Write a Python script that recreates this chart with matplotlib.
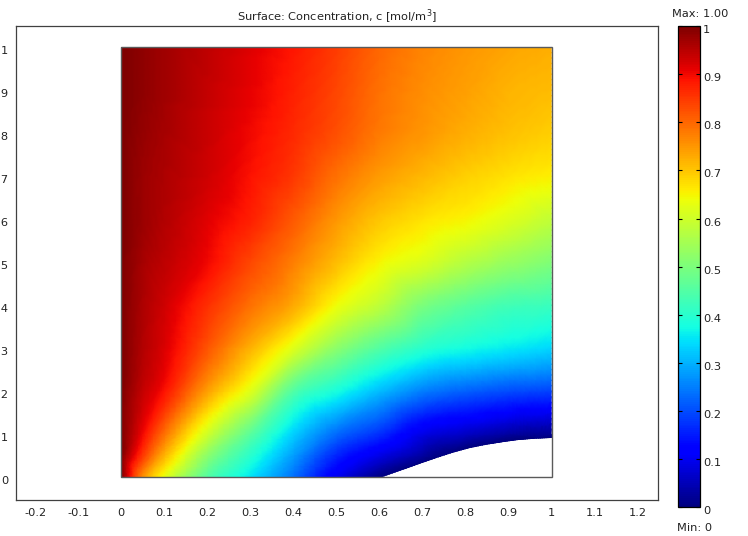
import numpy as np
import matplotlib
matplotlib.use("Agg")
import matplotlib.pyplot as plt
import matplotlib.tri as mtri
import matplotlib.transforms as mtransforms
from matplotlib.path import Path
from matplotlib.patches import PathPatch, Rectangle

plt.rcParams['font.family'] = ['DejaVu Sans']
plt.rcParams['axes.unicode_minus'] = False

# concentration at these sample points (nan = outside domain)
grid_x = [0, 0.05, 0.1, 0.2, 0.3, 0.4, 0.5, 0.6, 0.7, 0.8, 0.9, 1.0]
grid_y = [0, 0.05, 0.1, 0.2, 0.3, 0.4, 0.5, 0.6, 0.7, 0.8, 0.9, 1.0]
nan = np.nan
conc = [
    [1.00, 0.76, 0.63, 0.45, 0.35, 0.235, 0.10, nan, nan, nan, nan, nan],
    [1.00, 0.85, 0.72, 0.52, 0.40, 0.28, 0.16, 0.09, 0.03, nan, nan, nan],
    [1.00, 0.90, 0.79, 0.60, 0.46, 0.33, 0.23, 0.17, 0.09, 0.06, 0.03, 0.015],
    [1.00, 0.94, 0.89, 0.74, 0.62, 0.45, 0.38, 0.31, 0.25, 0.22, 0.20, 0.19],
    [1.00, 0.955, 0.92, 0.82, 0.72, 0.62, 0.52, 0.45, 0.40, 0.375, 0.355, 0.335],
    [1.00, 0.96, 0.93, 0.86, 0.79, 0.73, 0.64, 0.58, 0.50, 0.46, 0.43, 0.42],
    [1.00, 0.965, 0.945, 0.90, 0.835, 0.775, 0.71, 0.65, 0.615, 0.57, 0.535, 0.505],
    [1.00, 0.975, 0.955, 0.915, 0.875, 0.815, 0.75, 0.70, 0.67, 0.65, 0.62, 0.585],
    [1.00, 0.975, 0.96, 0.93, 0.89, 0.85, 0.79, 0.745, 0.715, 0.69, 0.67, 0.655],
    [1.00, 0.98, 0.965, 0.935, 0.90, 0.865, 0.825, 0.78, 0.75, 0.725, 0.705, 0.69],
    [1.00, 0.985, 0.97, 0.94, 0.91, 0.875, 0.835, 0.79, 0.76, 0.74, 0.72, 0.71],
    [1.00, 0.985, 0.97, 0.945, 0.915, 0.885, 0.845, 0.80, 0.77, 0.75, 0.735, 0.725],
]

# curved lower-right boundary, c = 0 on it
arc_x = [0.605, 0.656, 0.695, 0.733, 0.77, 0.81, 0.85, 0.888, 0.925, 0.965, 1.0]
arc_y = [0.0, 0.018, 0.032, 0.045, 0.057, 0.068, 0.076, 0.082, 0.087, 0.090, 0.0915]
arc_c = 0.0

x_ticks = [-0.2, -0.1, 0, 0.1, 0.2, 0.3, 0.4, 0.5, 0.6, 0.7, 0.8, 0.9, 1.0, 1.1, 1.2]
x_labels = ['-0.2', '-0.1', '0', '0.1', '0.2', '0.3', '0.4', '0.5', '0.6', '0.7',
            '0.8', '0.9', '1', '1.1', '1.2']
y_ticks = [0, 0.1, 0.2, 0.3, 0.4, 0.5, 0.6, 0.7, 0.8, 0.9, 1.0]
y_labels = ['0', '0.1', '0.2', '0.3', '0.4', '0.5', '0.6', '0.7', '0.8', '0.9', '1']
cb_ticks = y_ticks
cb_labels = y_labels

txt_col = '#222222'
fs = 8.2

# points for the triangulation
px, py, pc = [], [], []
for j, yv in enumerate(grid_y):
    for i, xv in enumerate(grid_x):
        v = conc[j][i]
        if np.isnan(v):
            continue
        px.append(xv)
        py.append(yv)
        pc.append(v)
for ax_, ay_ in zip(arc_x, arc_y):
    px.append(ax_)
    py.append(ay_)
    pc.append(arc_c)

tri = mtri.Triangulation(px, py)
cx = np.array(px)[tri.triangles].mean(axis=1)
cy = np.array(py)[tri.triangles].mean(axis=1)
hole = (cx > arc_x[0]) & (cy < np.interp(cx, arc_x, arc_y))
tri.set_mask(hole)

# smoother shading: let matplotlib refine the mesh with a cubic interpolant
refiner = mtri.UniformTriRefiner(tri)
interp = mtri.CubicTriInterpolator(tri, np.array(pc), kind='geom')
tri_f, c_f = refiner.refine_field(np.array(pc), triinterpolator=interp, subdiv=3)
c_f = np.clip(c_f, 0, 1)

W, H = 748, 536
fig = plt.figure(figsize=(W / 100, H / 100), dpi=100)
ax = fig.add_axes([15.7 / W, 1 - 499.7 / H, (658 - 15.7) / W, (499.7 - 26) / H])

mesh = ax.tripcolor(tri_f, c_f, shading='gouraud', cmap='jet', vmin=0, vmax=1)

# clip the field to the domain (square minus the curved cut)
verts = [(0, 1), (0, 0)] + list(zip(arc_x, arc_y)) + [(1, 1), (0, 1)]
codes = [Path.MOVETO] + [Path.LINETO] * (len(verts) - 2) + [Path.CLOSEPOLY]
domain = PathPatch(Path(verts, codes), transform=ax.transData, fc='none', ec='none')
ax.add_patch(domain)
mesh.set_clip_path(domain)

ax.add_patch(Rectangle((0, 0), 1, 1, fill=False, ec='#5a5a5a', lw=1.0, zorder=3))

ax.set_xlim(-0.245, 1.247)
ax.set_ylim(-0.052, 1.049)
ax.set_xticks(x_ticks)
ax.set_xticklabels(x_labels)
ax.set_yticks(y_ticks)
ax.set_yticklabels(y_labels)
ax.tick_params(axis='x', length=0, pad=6.0, labelsize=fs, labelcolor=txt_col)
ax.tick_params(axis='y', length=0, pad=5.2, labelsize=fs, labelcolor=txt_col)
for sp in ax.spines.values():
    sp.set_color('#404040')
    sp.set_linewidth(0.9)

down = mtransforms.ScaledTranslation(0, -0.03, fig.dpi_scale_trans)
for lbl in ax.get_yticklabels():
    lbl.set_transform(lbl.get_transform() + down)

fig.text(337 / W, 1 - 20.7 / H, 'Surface: Concentration, c [mol/m$^3$]',
         ha='center', va='baseline', fontsize=fs, color=txt_col)

# colour bar
cax = fig.add_axes([677.7 / W, 1 - 507.3 / H, 22.3 / W, 481.3 / H])
cb = fig.colorbar(mesh, cax=cax, ticks=cb_ticks)
cb.set_ticklabels(cb_labels)
cb.outline.set_edgecolor('black')
cb.outline.set_linewidth(0.9)
cax.tick_params(direction='in', length=3, width=0.8, left=True, right=True,
                labelleft=False, labelright=True, pad=2, labelsize=fs,
                labelcolor=txt_col)
for lbl in cax.get_yticklabels():
    lbl.set_transform(lbl.get_transform() + down)

fig.text(671.7 / W, 1 - 17.3 / H, 'Max: 1.00', ha='left', va='baseline',
         fontsize=fs, color=txt_col)
fig.text(677.3 / W, 1 - 531 / H, 'Min: 0', ha='left', va='baseline',
         fontsize=fs, color=txt_col)

fig.savefig('out.png', dpi=100)
